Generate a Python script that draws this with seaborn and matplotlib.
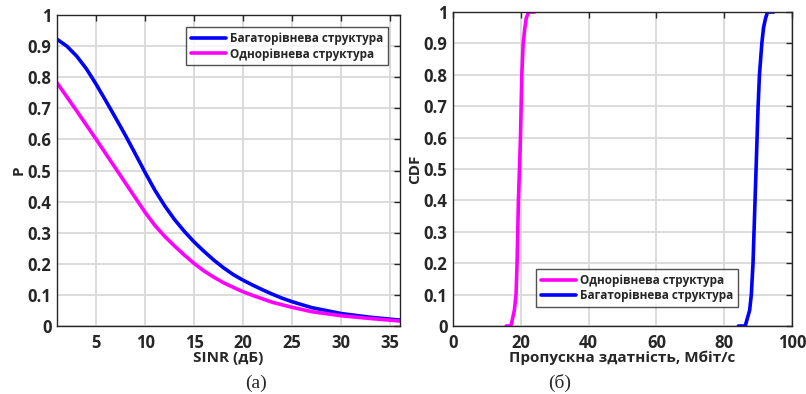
import matplotlib
matplotlib.use("Agg")
import matplotlib.pyplot as plt
import pandas as pd
import seaborn as sns

OUTPUT_FILE = "out.png"

# (а) ймовірність від SINR
sinr = [1, 2, 3, 4, 5, 6, 7, 8, 9, 10, 11, 12, 13, 14, 15, 16, 17, 18, 19, 20,
        21, 22, 23, 24, 25, 27, 30, 33, 36]
p_multi = [0.922, 0.900, 0.868, 0.827, 0.777, 0.723, 0.668, 0.612, 0.553, 0.493,
           0.436, 0.386, 0.342, 0.304, 0.270, 0.240, 0.212, 0.187, 0.165, 0.147,
           0.131, 0.116, 0.102, 0.089, 0.078, 0.059, 0.040, 0.028, 0.019]
p_single = [0.782, 0.737, 0.692, 0.646, 0.600, 0.553, 0.506, 0.459, 0.412, 0.365,
            0.323, 0.288, 0.257, 0.228, 0.201, 0.177, 0.157, 0.139, 0.124, 0.110,
            0.098, 0.087, 0.076, 0.068, 0.060, 0.046, 0.033, 0.024, 0.016]

# (б) CDF пропускної здатності
cdf_levels = [0, 0, 0.05, 0.1, 0.2, 0.3, 0.4, 0.5, 0.6, 0.7, 0.8, 0.9, 0.95, 0.98, 1.0, 1.0]
thr_single = [15.7, 17.1, 18.1, 18.6, 18.9, 19.1, 19.3, 19.6, 19.9, 20.1, 20.3, 20.7,
              21.2, 21.6, 22.3, 24.1]
thr_multi = [84.2, 86.2, 87.5, 88.0, 88.5, 88.8, 89.1, 89.4, 89.7, 90.0, 90.4, 91.1,
             91.6, 92.2, 92.8, 94.6]

LBL_MULTI = "Багаторівнева структура"
LBL_SINGLE = "Однорівнева структура"
colors = {LBL_MULTI: "#0000ff", LBL_SINGLE: "#ff00ff"}
INK = "#262626"

sns.set_style("white")
plt.rcParams["font.family"] = ["Open Sans", "DejaVu Sans"]
plt.rcParams["font.weight"] = "bold"

fig = plt.figure(figsize=(8.06, 3.94), dpi=100)
ax1 = fig.add_axes([57 / 806, 1 - 326 / 394, 343 / 806, 311 / 394])
ax2 = fig.add_axes([453 / 806, 1 - 326 / 394, 339 / 806, 314 / 394])

df_a = pd.concat([
    pd.DataFrame({"x": sinr, "y": p_multi, "s": LBL_MULTI}),
    pd.DataFrame({"x": sinr, "y": p_single, "s": LBL_SINGLE}),
])
df_b = pd.concat([
    pd.DataFrame({"x": thr_single, "y": cdf_levels, "s": LBL_SINGLE}),
    pd.DataFrame({"x": thr_multi, "y": cdf_levels, "s": LBL_MULTI}),
])

sns.lineplot(data=df_a, x="x", y="y", hue="s", palette=colors, ax=ax1,
             estimator=None, sort=False, linewidth=2.6)
sns.lineplot(data=df_b, x="x", y="y", hue="s", palette=colors, ax=ax2,
             estimator=None, sort=False, linewidth=2.6)

ax1.set_xlim(1, 36)
ax1.set_xticks(range(5, 36, 5))
ax2.set_xlim(0, 100)
ax2.set_xticks(range(0, 101, 20))

yt = [i / 10 for i in range(11)]
ylabels = ["0"] + [f"{v:.1f}" for v in yt[1:-1]] + ["1"]

for ax in (ax1, ax2):
    ax.set_ylim(0, 1)
    ax.set_yticks(yt)
    ax.set_yticklabels(ylabels)
    ax.grid(True, color="#d9d9d9", linewidth=1.3)
    ax.set_axisbelow(True)
    ax.tick_params(direction="in", top=True, right=True, length=4, width=1,
                   color=INK, labelcolor=INK, labelsize=12, pad=4)
    ax.tick_params(axis="x", pad=6)
    for lab in ax.get_xticklabels() + ax.get_yticklabels():
        lab.set_fontweight("bold")
    for sp in ax.spines.values():
        sp.set_color(INK)
        sp.set_linewidth(1)
    ax.get_legend().remove()

ax1.set_xlabel("SINR (дБ)", fontsize=11, fontweight="bold", color=INK, labelpad=-1)
ax1.set_ylabel("P", fontsize=11, fontweight="bold", color=INK, labelpad=1)
ax2.set_xlabel("Пропускна здатність, Мбіт/с", fontsize=11, fontweight="bold",
               color=INK, labelpad=-1)
ax2.set_ylabel("CDF", fontsize=11, fontweight="bold", color=INK, labelpad=1)

h1, l1 = ax1.get_legend_handles_labels()
leg1 = ax1.legend(h1, l1, loc="upper right", bbox_to_anchor=(0.965, 0.96),
                  frameon=True, fancybox=False, edgecolor=INK, fontsize=8.5,
                  handlelength=3.0, handletextpad=0.3, borderpad=0.4,
                  labelspacing=0.2, borderaxespad=0)
h2, l2 = ax2.get_legend_handles_labels()
leg2 = ax2.legend(h2, l2, loc="lower left", bbox_to_anchor=(0.245, 0.06),
                  frameon=True, fancybox=False, edgecolor=INK, fontsize=8.5,
                  handlelength=3.0, handletextpad=0.3, borderpad=0.4,
                  labelspacing=0.2, borderaxespad=0)
for leg in (leg1, leg2):
    leg.get_frame().set_linewidth(1)
    for t in leg.get_texts():
        t.set_fontweight("bold")
        t.set_color(INK)

fig.text(256 / 806, 1 - 383 / 394, "(а)", fontsize=14, ha="center", va="center",
         family="Liberation Serif", fontweight="normal")
fig.text(560 / 806, 1 - 383 / 394, "(б)", fontsize=14, ha="center", va="center",
         family="Liberation Serif", fontweight="normal")

fig.savefig(OUTPUT_FILE, dpi=100)
